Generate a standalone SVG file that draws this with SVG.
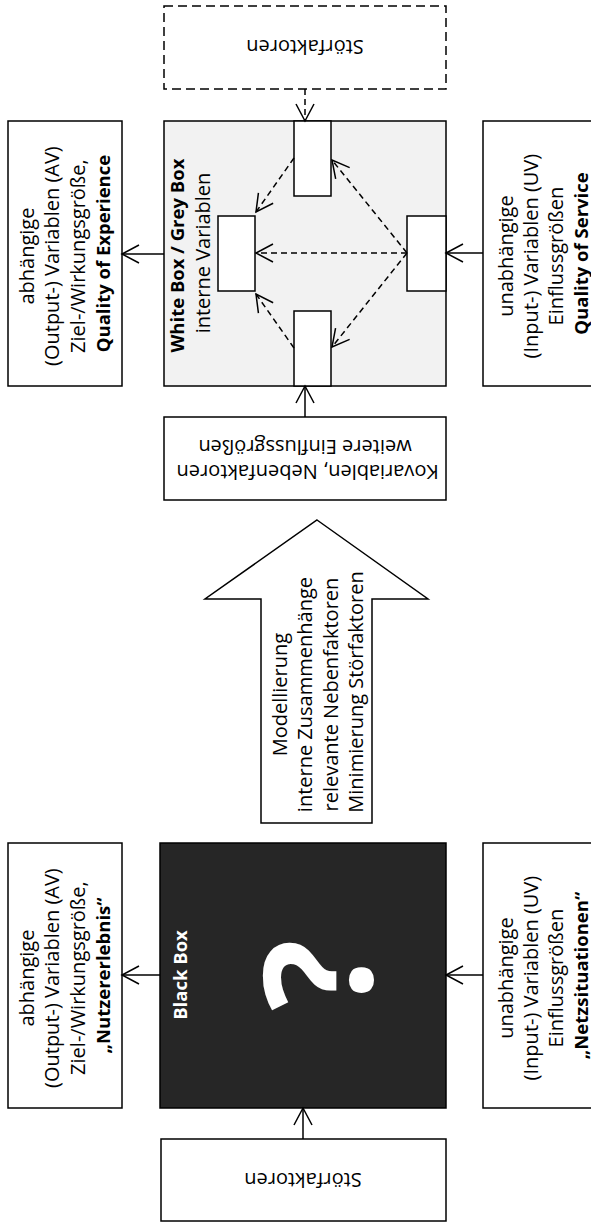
<svg xmlns="http://www.w3.org/2000/svg" width="591" height="1222" viewBox="0 0 591 1222">
  <style>
    .box { fill: #ffffff; stroke: #000000; stroke-width: 1.5; }
    .dashbox { fill: #ffffff; stroke: #000000; stroke-width: 1.5; stroke-dasharray: 9 5; }
    .grey { fill: #f2f2f2; stroke: #000000; stroke-width: 1.5; }
    .black { fill: #262626; stroke: #000000; stroke-width: 1.5; }
    .t { font-family: "Open Sans", "Liberation Sans", sans-serif; font-size: 20px; fill: #000000; text-anchor: middle; }
    .b { font-weight: 700; font-size: 18.5px; }
    .w { fill: #ffffff; }
    .q { font-size: 150px; }
    .conn { fill: none; stroke: #000000; stroke-width: 1.5; marker-end: url(#head); }
    .dashed { stroke-dasharray: 6 4; }
  </style>
  <defs>
    <marker id="head" markerUnits="userSpaceOnUse" viewBox="-20 -12 24 24" refX="0" refY="0" markerWidth="24" markerHeight="24" orient="auto" overflow="visible">
      <path d="M-17,-9 L0,0 L-17,9" fill="none" stroke="#000000" stroke-width="1.5"/>
    </marker>
  </defs>

  <!-- upper model: white box / grey box -->
  <g id="stoer-top">
    <rect class="dashbox" x="164" y="6" width="282" height="83"/>
    <g transform="translate(305 47) rotate(180)">
      <text class="t" x="0" y="7.5">Störfaktoren</text>
    </g>
  </g>

  <g id="qoe">
    <rect class="box" x="8" y="121" width="114" height="265"/>
    <g transform="translate(65 253.5) rotate(-90)">
      <text class="t">
        <tspan x="0" y="-31">abhängige</tspan>
        <tspan x="0" y="-6">(Output-) Variablen (AV)</tspan>
        <tspan x="0" y="19.5">Ziel-/Wirkungsgröße,</tspan>
        <tspan x="0" y="45" class="b">Quality of Experience</tspan>
      </text>
    </g>
  </g>

  <g id="greybox">
    <rect class="grey" x="164" y="121" width="282" height="265"/>
    <g transform="translate(196 253) rotate(-90)">
      <text class="t">
        <tspan x="0" y="-12" class="b">White Box / Grey Box</tspan>
        <tspan x="0" y="13.5">interne Variablen</tspan>
      </text>
    </g>
  </g>

  <g id="var-top"><rect class="box" x="294" y="121" width="37" height="75"/></g>
  <g id="var-left"><rect class="box" x="218" y="216" width="37" height="75"/></g>
  <g id="var-right"><rect class="box" x="407" y="216" width="39" height="75"/></g>
  <g id="var-bottom"><rect class="box" x="294" y="311" width="37" height="75"/></g>

  <g id="qos">
    <rect class="box" x="483" y="121" width="130" height="265"/>
    <g transform="translate(544 253.5) rotate(-90)">
      <text class="t">
        <tspan x="0" y="-31.5">unabhängige</tspan>
        <tspan x="0" y="-6.5">(Input-) Variablen (UV)</tspan>
        <tspan x="0" y="18.5">Einflussgrößen</tspan>
        <tspan x="0" y="44" class="b">Quality of Service</tspan>
      </text>
    </g>
  </g>

  <g id="kovariablen">
    <rect class="box" x="164" y="417" width="282" height="83"/>
    <g transform="translate(305 458.5) rotate(180)">
      <text class="t">
        <tspan x="0" y="-6">Kovariablen, Nebenfaktoren</tspan>
        <tspan x="0" y="19">weitere Einflussgrößen</tspan>
      </text>
    </g>
  </g>

  <!-- block arrow between the two models -->
  <g id="modellierung">
    <polygon class="box" points="317,520 428,599 372,599 372,823 261,823 261,599 205,599"/>
    <g transform="translate(324 692) rotate(-90)">
      <text class="t">
        <tspan x="0" y="-37">Modellierung</tspan>
        <tspan x="0" y="-11.7">interne Zusammenhänge</tspan>
        <tspan x="0" y="13.5">relevante Nebenfaktoren</tspan>
        <tspan x="0" y="38.8">Minimierung Störfaktoren</tspan>
      </text>
    </g>
  </g>

  <!-- lower model: black box -->
  <g id="nutzererlebnis">
    <rect class="box" x="8" y="843" width="114" height="265"/>
    <g transform="translate(65 975.5) rotate(-90)">
      <text class="t">
        <tspan x="0" y="-31">abhängige</tspan>
        <tspan x="0" y="-6">(Output-) Variablen (AV)</tspan>
        <tspan x="0" y="19.5">Ziel-/Wirkungsgröße,</tspan>
        <tspan x="0" y="45" class="b">„Nutzererlebnis“</tspan>
      </text>
    </g>
  </g>

  <g id="blackbox">
    <rect class="black" x="160" y="843" width="286" height="265"/>
    <g transform="translate(182 975) rotate(-90)">
      <text class="t b w" x="0" y="5">Black Box</text>
    </g>
    <g transform="translate(317 975) rotate(-90)">
      <text class="t b w q" x="0" y="55">?</text>
    </g>
  </g>

  <g id="netzsituationen">
    <rect class="box" x="483" y="843" width="130" height="265"/>
    <g transform="translate(544 975.5) rotate(-90)">
      <text class="t">
        <tspan x="0" y="-31.5">unabhängige</tspan>
        <tspan x="0" y="-6.5">(Input-) Variablen (UV)</tspan>
        <tspan x="0" y="18.5">Einflussgrößen</tspan>
        <tspan x="0" y="44" class="b">„Netzsituationen“</tspan>
      </text>
    </g>
  </g>

  <g id="stoer-bottom">
    <rect class="box" x="161" y="1139" width="285" height="82"/>
    <g transform="translate(303 1180) rotate(180)">
      <text class="t" x="0" y="7.5">Störfaktoren</text>
    </g>
  </g>

  <!-- connectors -->
  <g id="connectors">
    <line class="conn dashed" x1="305" y1="89" x2="305" y2="121"/>
    <line class="conn" x1="164" y1="254" x2="122" y2="254"/>
    <line class="conn" x1="483" y1="253" x2="446" y2="253"/>
    <line class="conn" x1="305" y1="417" x2="305" y2="386"/>
    <line class="conn dashed" x1="407" y1="253" x2="256" y2="253"/>
    <line class="conn dashed" x1="407" y1="253" x2="332" y2="160"/>
    <line class="conn dashed" x1="407" y1="253" x2="332" y2="347"/>
    <line class="conn dashed" x1="294" y1="158" x2="256" y2="212"/>
    <line class="conn dashed" x1="294" y1="348" x2="256" y2="294"/>
    <line class="conn" x1="160" y1="975" x2="122" y2="975"/>
    <line class="conn" x1="483" y1="975" x2="446" y2="975"/>
    <line class="conn" x1="303" y1="1139" x2="303" y2="1108"/>
  </g>
</svg>
